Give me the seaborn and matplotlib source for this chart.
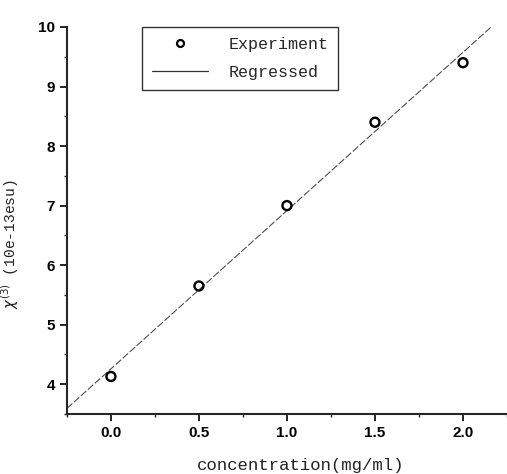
import numpy as np
import pandas as pd
import matplotlib
matplotlib.use('Agg')
import matplotlib.pyplot as plt
import seaborn as sns
from matplotlib.lines import Line2D
from matplotlib.ticker import MultipleLocator

# measured chi(3) vs concentration
concentration = [0.0, 0.5, 1.0, 1.5, 2.0]
chi3 = [4.13, 5.65, 7.0, 8.4, 9.4]
x_ticks = [0.0, 0.5, 1.0, 1.5, 2.0]
y_ticks = [4, 5, 6, 7, 8, 9, 10]

df = pd.DataFrame({"conc": concentration, "chi3": chi3})

sns.set_style("ticks")
plt.rcParams['font.family'] = ['Liberation Sans', 'DejaVu Sans']

fig = plt.figure(figsize=(5.07, 4.74), dpi=100)
ax = fig.add_axes([0.132, 0.1266, 0.868, 0.8165])
ax.set_xlim(-0.25, 2.25)
ax.set_ylim(3.5, 10)

# regression line spans the whole x range (truncate=False uses current xlim)
sns.regplot(data=df, x="conc", y="chi3", ax=ax, scatter=False, ci=None,
            truncate=False,
            line_kws=dict(color='#444444', lw=0.75, ls=(0, (7, 2))))
sns.scatterplot(data=df, x="conc", y="chi3", ax=ax, marker='o', s=42,
                facecolor='none', edgecolor='black', linewidth=1.7, zorder=3)

ax.set_xlim(-0.25, 2.25)
ax.set_ylim(3.5, 10)
ax.set_xticks(x_ticks)
ax.set_yticks(y_ticks)
ax.set_xticklabels([f"{t:.1f}" for t in x_ticks])
ax.xaxis.set_minor_locator(MultipleLocator(0.25))
ax.yaxis.set_minor_locator(MultipleLocator(0.5))
ax.tick_params(which='major', direction='out', length=5, width=1.2,
               labelsize=11, colors='black')
ax.tick_params(which='minor', direction='out', length=2.5, width=1)
for lab in ax.get_xticklabels() + ax.get_yticklabels():
    lab.set_fontweight('bold')

sns.despine(ax=ax)
ax.spines['left'].set_linewidth(1.5)
ax.spines['bottom'].set_linewidth(1.5)

ax.set_xlabel("concentration(mg/ml)", family='Liberation Mono', fontsize=12.5,
              color='#222222')
ax.xaxis.set_label_coords(0.53, -0.115)
ax.set_ylabel(r"$\chi^{(3)}$ (10e-13esu)", family='Liberation Mono',
              fontsize=10.5, color='#222222')
ax.yaxis.set_label_coords(-0.105, 0.44)

handles = [
    Line2D([], [], ls='none', marker='o', markersize=5, markerfacecolor='none',
           markeredgecolor='black', markeredgewidth=1.6),
    Line2D([], [], color='#333333', lw=0.9),
]
leg = ax.legend(handles, ["Experiment", "Regressed"], loc='upper left',
                bbox_to_anchor=(0.17, 1.0), borderaxespad=0.0,
                frameon=True, fancybox=False, edgecolor='black',
                handlelength=3.4, handletextpad=1.2, borderpad=0.6,
                labelspacing=0.8,
                prop=dict(family='Liberation Mono', size=12))
leg.get_frame().set_linewidth(1.0)

fig.savefig("out.png", dpi=100)
